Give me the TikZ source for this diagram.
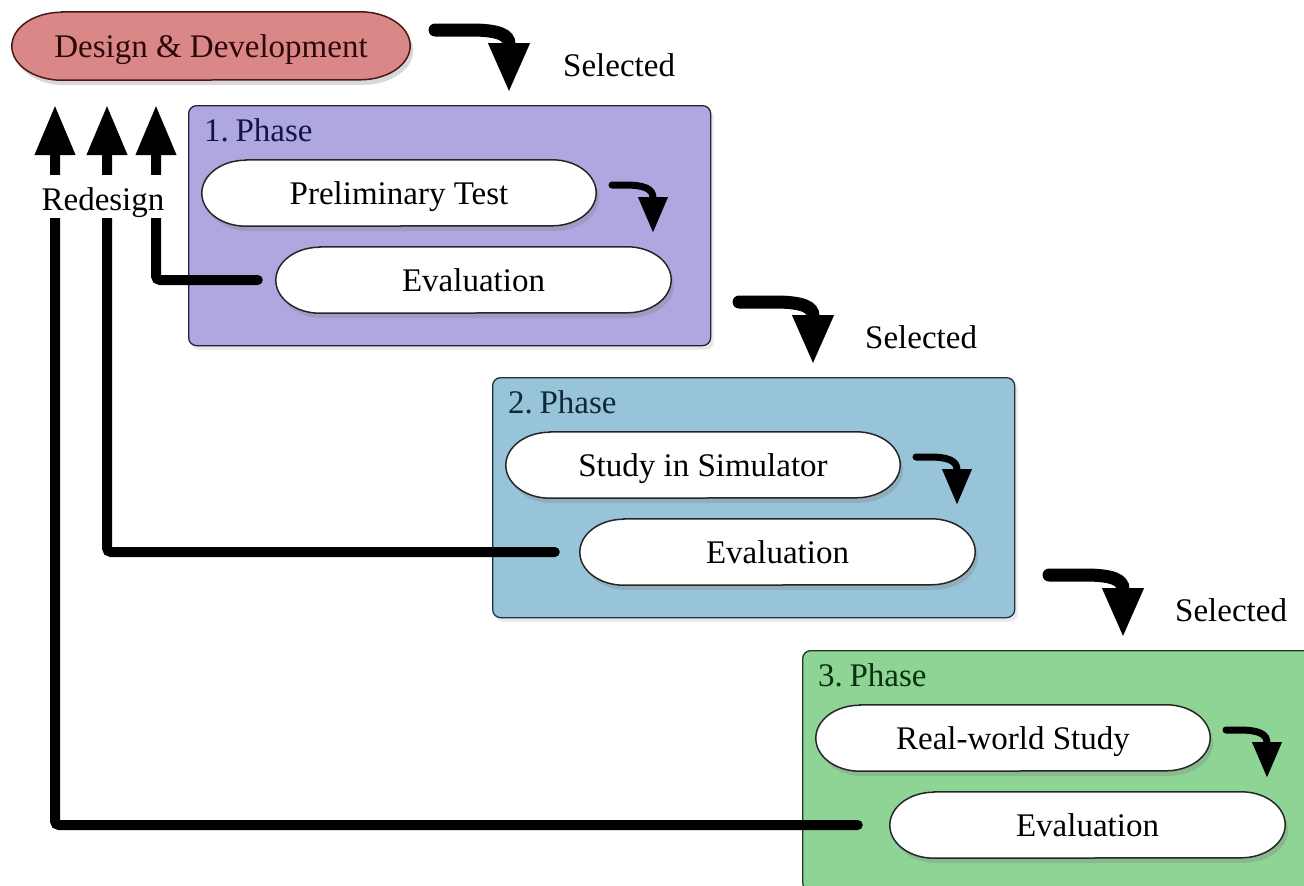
\documentclass[tikz,border=0pt]{standalone}
\usepackage{fontspec}
\setmainfont{Liberation Serif}
\usetikzlibrary{arrows.meta,shadows}
\pgfdeclarelayer{bg}
\pgfdeclarelayer{mid}
\pgfsetlayers{bg,mid,main}
\definecolor{ddfill}{HTML}{D98787}
\definecolor{dddraw}{HTML}{4A1818}
\definecolor{ddtext}{HTML}{2E0808}
\definecolor{ph1}{HTML}{AFA7E0}
\definecolor{ph1d}{HTML}{22223E}
\definecolor{ph1t}{HTML}{14144A}
\definecolor{ph2}{HTML}{97C4D8}
\definecolor{ph2d}{HTML}{1C3444}
\definecolor{ph2t}{HTML}{0E2A38}
\definecolor{ph3}{HTML}{8ED494}
\definecolor{ph3d}{HTML}{1A3C1E}
\definecolor{ph3t}{HTML}{0A3210}
\tikzset{
  txt/.style={font=\fontsize{33}{36}\selectfont},
  pilltext/.style={txt, inner sep=0pt, text height=22pt, text depth=0pt, align=center},
  pillshape/.style={draw=black!85, line width=1.5pt, fill=white,
    drop shadow={opacity=0.3, shadow xshift=3pt, shadow yshift=-5pt}},
  phasebox/.style={rounded corners=8pt, line width=1.3pt, anchor=north west,
    minimum width=522pt, minimum height=240pt, inner sep=0pt,
    drop shadow={opacity=0.18, shadow xshift=3pt, shadow yshift=-4pt}},
  phasetitle/.style={txt, anchor=base west, inner sep=0pt},
  seltext/.style={txt, anchor=base west, inner sep=0pt},
  bigarr/.style={line width=13pt, line cap=round, -{Triangle[width=38pt,length=50pt]}},
  smallarr/.style={line width=7pt, line cap=round, -{Triangle[width=28pt,length=36pt]}},
  fb/.style={line width=10pt, line cap=round, rounded corners=4pt, -{Triangle[width=38pt,length=50pt]}},
}
\newcommand\mkpill[6]{% name, center, width, height, radius, text
  \node[pilltext, minimum width=#3, minimum height=#4] (#1) at (#2) {#6};
  \begin{pgfonlayer}{mid}
    \path[pillshape] ([xshift=44pt]#1.north west) -- ([xshift=-44pt]#1.north east)
      arc[start angle=90, end angle=-90, x radius=44pt, y radius=#5]
      -- ([xshift=44pt]#1.south west)
      arc[start angle=270, end angle=90, x radius=44pt, y radius=#5] -- cycle;
  \end{pgfonlayer}}
\begin{document}
\begin{tikzpicture}[x=1pt,y=-1pt]
\useasboundingbox (0,0) rectangle (1304,886);
\begin{pgfonlayer}{bg}
\fill[white] (0,0) rectangle (1304,886);
\end{pgfonlayer}

% Design & Development
\node[pilltext, minimum width=398pt, minimum height=68pt, text=ddtext] (dd) at (211,46) {Design \& Development};
\begin{pgfonlayer}{mid}
  \path[pillshape, fill=ddfill, draw=dddraw] ([xshift=50pt]dd.north west) -- ([xshift=-50pt]dd.north east)
    arc[start angle=90, end angle=-90, x radius=50pt, y radius=34pt]
    -- ([xshift=50pt]dd.south west)
    arc[start angle=270, end angle=90, x radius=50pt, y radius=34pt] -- cycle;
\end{pgfonlayer}

% phase boxes
\begin{pgfonlayer}{bg}
  \node[phasebox, fill=ph1, draw=ph1d] (b1) at (188,105) {};
  \node[phasebox, fill=ph2, draw=ph2d] (b2) at (492,377) {};
  \node[phasebox, fill=ph3, draw=ph3d] (b3) at (802,650) {};
\end{pgfonlayer}

\node[phasetitle, text=ph1t] (l1) at ([shift={(16,36)}]b1.north west) {1.\kern0.2em Phase};
\node[phasetitle, text=ph2t] (l2) at ([shift={(16,36)}]b2.north west) {2.\kern0.2em Phase};
\node[phasetitle, text=ph3t] (l3) at ([shift={(16,36)}]b3.north west) {3.\kern0.2em Phase};

% pills
\coordinate (c1) at ([shift={(211,88)}]b1.north west);
\coordinate (c2) at ([shift={(211,88)}]b2.north west);
\coordinate (c3) at ([shift={(211,88)}]b3.north west);
\coordinate (d1) at ([shift={(285.5,175)}]b1.north west);
\coordinate (d2) at ([shift={(285.5,175)}]b2.north west);
\coordinate (d3) at ([shift={(285.5,175)}]b3.north west);
\mkpill{p1}{c1}{394pt}{66pt}{33pt}{Preliminary Test}
\mkpill{e1}{d1}{395pt}{66pt}{33pt}{Evaluation}
\mkpill{p2}{c2}{394pt}{66pt}{33pt}{Study in Simulator}
\mkpill{e2}{d2}{395pt}{66pt}{33pt}{Evaluation}
\mkpill{p3}{c3}{394pt}{66pt}{33pt}{Real-world Study}
\mkpill{e3}{d3}{395pt}{66pt}{33pt}{Evaluation}

% small arrows inside phases
\foreach \b in {b1,b2,b3}{
  \coordinate (st) at ([shift={(465,128)}]\b.north west);
  \draw[smallarr] ([shift={(-41,-48)}]st) -- ([shift={(-28,-48)}]st)
    .. controls ([shift={(-8,-48)}]st) and ([shift={(0,-44)}]st) .. ([shift={(0,-35)}]st) -- (st);
}

% big "Selected" arrows
\coordinate (t1) at ([shift={(321,-12)}]b1.north west);
\coordinate (t2) at ([shift={(321,-12)}]b2.north west);
\coordinate (t3) at ([shift={(321,-12)}]b3.north west);
\foreach \t in {t1,t2,t3}{
  \draw[bigarr] ([shift={(-74,-63)}]\t) -- ([shift={(-38,-63)}]\t)
    .. controls ([shift={(-10,-63)}]\t) and ([shift={(0,-58)}]\t) .. ([shift={(0,-49)}]\t) -- (\t);
}
\node[seltext] (s1) at ([shift={(54,-17)}]t1) {Selected};
\node[seltext] (s2) at ([shift={(52,-17)}]t2) {Selected};
\node[seltext] (s3) at ([shift={(52,-17)}]t3) {Selected};

% redesign feedback
\coordinate (r1) at (55,105);
\coordinate (r2) at (107,105);
\coordinate (r3) at (156,105);
\draw[fb] ([xshift=-18pt]e1.west) -| (r3);
\draw[fb] ([xshift=-25pt]e2.west) -| (r2);
\draw[fb] ([xshift=-32pt]e3.west) -| (r1);
\node[txt, fill=white, anchor=base, text height=29pt, text depth=2pt, inner ysep=6pt, inner xsep=2pt] (rd) at (103,210) {Redesign};
\end{tikzpicture}
\end{document}
